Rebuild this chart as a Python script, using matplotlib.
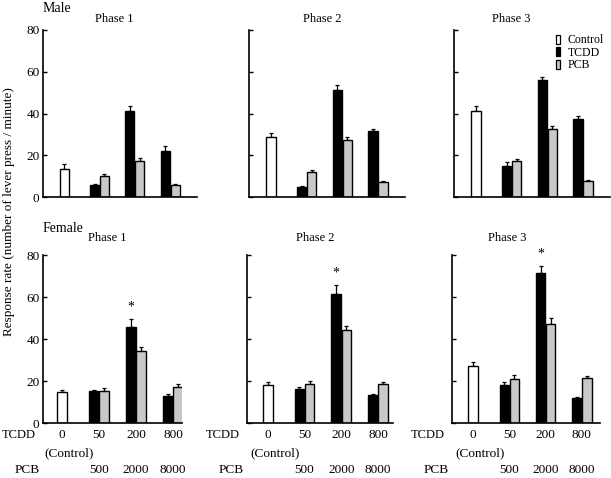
import matplotlib
matplotlib.use("Agg")
import matplotlib.pyplot as plt
from matplotlib.patches import Patch

plt.rcParams["font.family"] = ["Liberation Serif", "DejaVu Serif"]

W, H = 611, 478

# ---- data (response rate, lever press / minute) ----
phases = ["Phase 1", "Phase 2", "Phase 3"]
tcdd_doses = ["0", "50", "200", "800"]
pcb_doses = ["500", "2000", "8000"]

male_control = [13.4, 28.6, 41.0]
male_control_err = [2.4, 2.2, 2.8]
male_tcdd = [[5.6, 41.3, 22.0], [4.8, 51.4, 31.6], [14.9, 56.2, 37.3]]
male_tcdd_err = [[0.4, 2.4, 2.5], [0.6, 2.1, 1.1], [2.1, 1.3, 1.3]]
male_pcb = [[9.9, 17.2, 5.7], [11.9, 27.5, 7.1], [17.3, 32.5, 7.9]]
male_pcb_err = [[1.1, 1.4, 0.6], [1.1, 1.4, 0.6], [1.1, 1.6, 0.4]]

female_control = [14.7, 18.2, 27.1]
female_control_err = [1.1, 1.3, 2.0]
female_tcdd = [[15.1, 45.6, 12.8], [16.2, 61.5, 13.2], [18.3, 71.3, 11.7]]
female_tcdd_err = [[0.8, 3.8, 0.8], [0.9, 4.4, 0.6], [1.4, 3.5, 0.7]]
female_pcb = [[15.4, 34.4, 17.1], [18.8, 44.5, 18.4], [21.1, 47.2, 21.3]]
female_pcb_err = [[1.1, 2.0, 1.6], [1.4, 1.6, 0.9], [1.6, 2.9, 1.2]]

# significant TCDD group (female, 200 dose)
star_group = 1

# ---- layout (pixel boxes: left, right, top, bottom) ----
top_boxes = [(43, 197, 30, 197), (249, 405, 30, 197), (454, 610, 30, 197)]
bot_boxes = [(43, 182, 255, 423), (247, 393, 255, 423), (452, 600, 255, 423)]
top_xlim = [(-0.6, 3.76), (-0.62, 3.76), (-0.62, 3.76)]
bot_xlim = [(-0.51, 3.24), (-0.57, 3.41), (-0.58, 3.5)]
title_x = [0.46, 0.47, 0.37]

BW = 0.26
OFF = 0.14
GREY = "#c8c8c8"

fig = plt.figure(figsize=(W / 100, H / 100), dpi=100)


def add_ax(box):
    l, r, t, b = box
    return fig.add_axes([l / W, 1 - b / H, (r - l) / W, (b - t) / H])


def draw_panel(ax, ctrl, ctrl_err, tcdd, tcdd_err, pcb, pcb_err, xlim):
    grp = [1, 2, 3]
    kw = dict(edgecolor="black", linewidth=1.0, zorder=2)
    ax.bar([0], [ctrl], BW, color="white", **kw)
    ax.bar([g - OFF for g in grp], tcdd, BW, color="black", **kw)
    ax.bar([g + OFF for g in grp], pcb, BW, color=GREY, **kw)
    ekw = dict(fmt="none", ecolor="black", elinewidth=0.9, capsize=1.5,
               capthick=0.9, zorder=1)
    ax.errorbar([0], [ctrl], yerr=[[0], [ctrl_err]], **ekw)
    ax.errorbar([g - OFF for g in grp], tcdd, yerr=[[0] * 3, tcdd_err], **ekw)
    ax.errorbar([g + OFF for g in grp], pcb, yerr=[[0] * 3, pcb_err], **ekw)
    ax.set_xlim(*xlim)
    ax.set_ylim(0, 80)
    ax.set_yticks([0, 20, 40, 60, 80])
    ax.set_xticks([])
    for s in ("top", "right"):
        ax.spines[s].set_visible(False)
    for s in ("left", "bottom"):
        ax.spines[s].set_linewidth(1.2)
    ax.tick_params(axis="y", direction="in", length=3, width=1,
                   labelsize=9.5, pad=2.5)


for i in range(3):
    ax = add_ax(top_boxes[i])
    draw_panel(ax, male_control[i], male_control_err[i], male_tcdd[i],
               male_tcdd_err[i], male_pcb[i], male_pcb_err[i], top_xlim[i])
    ax.text(title_x[i], 1.065, phases[i], transform=ax.transAxes,
            ha="center", va="center", fontsize=9)
    if i > 0:
        ax.set_yticklabels([])
    if i == 2:
        handles = [Patch(facecolor="white", edgecolor="black", lw=0.9),
                   Patch(facecolor="black", edgecolor="black", lw=0.9),
                   Patch(facecolor=GREY, edgecolor="black", lw=0.9)]
        ax.legend(handles, ["Control", "TCDD", "PCB"], loc="upper left",
                  bbox_to_anchor=(0.655, 0.975), frameon=False, fontsize=8.5,
                  handlelength=0.35, handleheight=0.8, handletextpad=0.6,
                  labelspacing=0.05, borderpad=0, borderaxespad=0)

for i in range(3):
    ax = add_ax(bot_boxes[i])
    draw_panel(ax, female_control[i], female_control_err[i], female_tcdd[i],
               female_tcdd_err[i], female_pcb[i], female_pcb_err[i], bot_xlim[i])
    ax.text(title_x[i], 1.1, phases[i], transform=ax.transAxes,
            ha="center", va="center", fontsize=9)
    if i > 0:
        ax.set_yticklabels([])
    # asterisk over TCDD 200
    top = female_tcdd[i][star_group] + female_tcdd_err[i][star_group]
    ax.text(star_group + 1 - OFF, top + 2.5, "*", ha="center", va="bottom",
            fontsize=10)
    # dose labels below axis
    xt = ax.get_xaxis_transform()
    ax.annotate("TCDD", xy=(0, 0), xycoords="axes fraction", xytext=(-5, -9),
                textcoords="offset points", ha="right", va="center", fontsize=9)
    ax.annotate("PCB", xy=(0, 0), xycoords="axes fraction", xytext=(-2, -34),
                textcoords="offset points", ha="right", va="center", fontsize=9.5)
    for g, lab in enumerate(tcdd_doses):
        ax.annotate(lab, xy=(g, 0), xycoords=xt, xytext=(0, -9),
                    textcoords="offset points", ha="center", va="center",
                    fontsize=9.5)
    ax.annotate("(Control)", xy=(0.2, 0), xycoords=xt, xytext=(0, -21.5),
                textcoords="offset points", ha="center", va="center",
                fontsize=9.5)
    for g, lab in enumerate(pcb_doses):
        ax.annotate(lab, xy=(g + 1, 0), xycoords=xt, xytext=(0, -34),
                    textcoords="offset points", ha="center", va="center",
                    fontsize=9.5)

fig.text(43 / W, 1 - 8 / H, "Male", ha="left", va="center", fontsize=10)
fig.text(43 / W, 1 - 229 / H, "Female", ha="left", va="center", fontsize=10)
fig.text(9 / W, 1 - 212 / H, "Response rate (number of lever press / minute)",
         rotation=90, ha="center", va="center", fontsize=9.5)

fig.savefig("out.png", dpi=100, facecolor="white")
